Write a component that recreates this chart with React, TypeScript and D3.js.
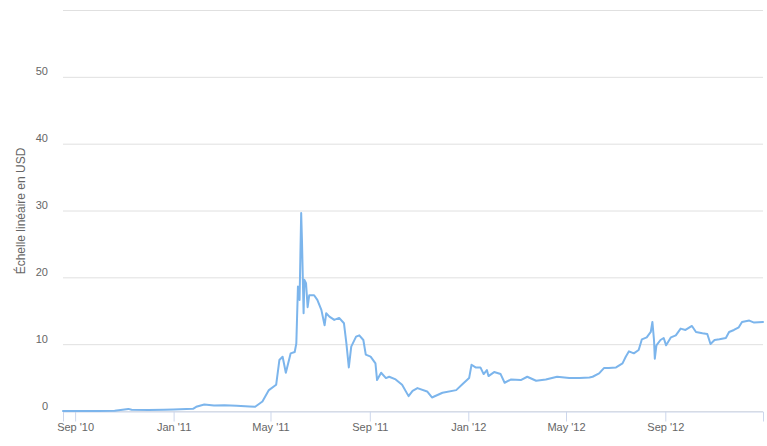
import { useEffect, useRef } from "react";
import * as d3 from "d3";

const WIDTH = 767;
const HEIGHT = 446;

// daily close (USD)
const dates = [
  "2010-08-17", "2010-09-01", "2010-10-01", "2010-10-20", "2010-11-06", "2010-11-10",
  "2010-12-01", "2010-12-20", "2011-01-01", "2011-01-25", "2011-01-29", "2011-02-08",
  "2011-02-20", "2011-03-05", "2011-03-20", "2011-04-05", "2011-04-12", "2011-04-21",
  "2011-04-29", "2011-05-08", "2011-05-12", "2011-05-16", "2011-05-20", "2011-05-26",
  "2011-05-31", "2011-06-02", "2011-06-04", "2011-06-06", "2011-06-08", "2011-06-09",
  "2011-06-11", "2011-06-12", "2011-06-14", "2011-06-16", "2011-06-18", "2011-06-24",
  "2011-06-28", "2011-07-03", "2011-07-07", "2011-07-09", "2011-07-13", "2011-07-19",
  "2011-07-25", "2011-07-31", "2011-08-03", "2011-08-06", "2011-08-09", "2011-08-15",
  "2011-08-19", "2011-08-24", "2011-08-27", "2011-09-02", "2011-09-08", "2011-09-10",
  "2011-09-15", "2011-09-21", "2011-09-25", "2011-10-03", "2011-10-11", "2011-10-19",
  "2011-10-24", "2011-10-30", "2011-11-11", "2011-11-17", "2011-11-30", "2011-12-17",
  "2011-12-25", "2012-01-02", "2012-01-05", "2012-01-10", "2012-01-16", "2012-01-20",
  "2012-01-24", "2012-01-26", "2012-02-02", "2012-02-10", "2012-02-15", "2012-02-23",
  "2012-03-06", "2012-03-14", "2012-03-25", "2012-04-06", "2012-04-20", "2012-05-05",
  "2012-05-18", "2012-05-30", "2012-06-03", "2012-06-11", "2012-06-17", "2012-06-23",
  "2012-07-02", "2012-07-10", "2012-07-14", "2012-07-18", "2012-07-24", "2012-07-30",
  "2012-08-03", "2012-08-09", "2012-08-14", "2012-08-16", "2012-08-18", "2012-08-19",
  "2012-08-21", "2012-08-26", "2012-08-30", "2012-09-02", "2012-09-08", "2012-09-14",
  "2012-09-20", "2012-09-26", "2012-10-04", "2012-10-09", "2012-10-17", "2012-10-23",
  "2012-10-27", "2012-11-01", "2012-11-07", "2012-11-15", "2012-11-19", "2012-11-25",
  "2012-12-01", "2012-12-05", "2012-12-14", "2012-12-20", "2012-12-31",
];

const prices = [
  0.07, 0.06, 0.06, 0.1, 0.39, 0.25,
  0.22, 0.25, 0.3, 0.4, 0.7, 1.05,
  0.9, 0.95, 0.85, 0.75, 0.72, 1.5,
  3.2, 4.0, 7.7, 8.2, 5.8, 8.7,
  8.9, 10.2, 18.7, 16.7, 29.7, 25.5,
  14.7, 19.7, 19.2, 15.6, 17.4, 17.4,
  16.7, 15.2, 12.9, 14.7, 14.2, 13.7,
  14.0, 13.2, 10.2, 6.6, 9.7, 11.2,
  11.4, 10.7, 8.5, 8.2, 7.2, 4.7,
  5.8, 5.0, 5.2, 4.8, 4.0, 2.3,
  3.1, 3.5, 3.0, 2.1, 2.8, 3.2,
  4.1, 5.0, 7.0, 6.6, 6.6, 5.6,
  6.2, 5.3, 5.9, 5.6, 4.3, 4.8,
  4.7, 5.2, 4.6, 4.8, 5.2, 5.0,
  5.0, 5.1, 5.2, 5.7, 6.5, 6.5,
  6.6, 7.2, 8.2, 9.0, 8.7, 9.2,
  10.8, 11.1, 11.9, 13.4, 10.7, 7.9,
  9.9, 10.7, 11.0, 9.9, 11.1, 11.4,
  12.4, 12.2, 12.8, 11.9, 11.7, 11.6,
  10.1, 10.7, 10.8, 11.0, 11.9, 12.2,
  12.6, 13.4, 13.6, 13.3, 13.4,
];

const yTicks = [0, 10, 20, 30, 40, 50, 60];
const yLabels = [0, 10, 20, 30, 40, 50];
const yTitle = "Échelle linéaire en USD";

const parse = d3.timeParse("%Y-%m-%d");

const App = () => {
  const gX = useRef<SVGGElement | null>(null);

  const data = dates.map((d, i) => ({ date: parse(d)!, value: prices[i] }));

  const x = d3
    .scaleTime()
    .domain([parse("2010-08-17")!, parse("2012-12-31")!])
    .range([63, 763]);
  const y = d3.scaleLinear().domain([0, 60]).range([411.5, 10.5]);

  const line = d3
    .line<{ date: Date; value: number }>()
    .x((d) => x(d.date))
    .y((d) => y(d.value));

  useEffect(() => {
    if (gX.current) {
      const g = d3.select(gX.current);
      g.call(
        d3
          .axisBottom(x)
          .ticks(d3.timeMonth.every(4))
          .tickFormat((d) => d3.timeFormat("%b '%y")(d as Date))
          .tickSize(10)
          .tickPadding(2),
      );
      g.select(".domain").attr("stroke", "#ccd6eb");
      g.selectAll(".tick line").attr("stroke", "#ccd6eb");
      g.selectAll(".tick text")
        .attr("fill", "#666666")
        .style("font-size", "11px")
        .style("font-family", "'Liberation Sans', Arial, sans-serif");
    }
  }, [x]);

  return (
    <div style={{ position: "absolute", left: 0, top: 0 }}>
      <svg width={WIDTH} height={HEIGHT} style={{ display: "block" }}>
        <rect width={WIDTH} height={HEIGHT} fill="#ffffff" />
        <g stroke="#e0e0e0" strokeWidth={1}>
          {yTicks.map((t) => (
            <line key={t} x1={63} x2={763} y1={y(t)} y2={y(t)} />
          ))}
        </g>
        <g
          fill="#666666"
          fontSize={11}
          fontFamily="'Liberation Sans', Arial, sans-serif"
          textAnchor="end"
        >
          {yLabels.map((t) => (
            <text key={t} x={48} y={y(t) - 2}>
              {t}
            </text>
          ))}
        </g>
        <text
          transform={`translate(25, ${y(30)}) rotate(-90)`}
          textAnchor="middle"
          fill="#666666"
          fontSize={12}
          fontFamily="'Liberation Sans', Arial, sans-serif"
        >
          {yTitle}
        </text>
        <g ref={gX} transform="translate(0, 411.5)" />
        <path
          d={line(data) ?? ""}
          fill="none"
          stroke="#7cb5ec"
          strokeWidth={2}
          strokeLinejoin="round"
          strokeLinecap="round"
        />
      </svg>
    </div>
  );
};

export default App;
